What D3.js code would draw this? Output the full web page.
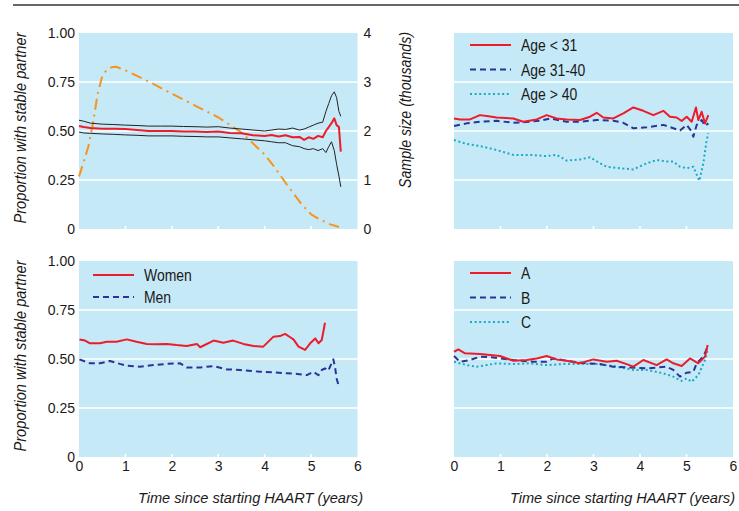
<!DOCTYPE html>
<html>
<head>
<meta charset="utf-8">
<script src="https://cdn.jsdelivr.net/npm/d3@7.9.0/dist/d3.min.js"></script>
<style>
  body { margin: 0; background: #fff; }
  svg { display: block; font-family: "Liberation Sans", Arial, sans-serif; }
  .tick text { font-size: 14px; fill: #1a1a1a; }
  .title { font-size: 16px; font-style: italic; fill: #1a1a1a; }
  .xtitle { font-size: 14.6px; font-style: italic; fill: #1a1a1a; }
  .leg { font-size: 17px; fill: #1a1a1a; }
</style>
</head>
<body>
<svg id="chart" width="739" height="511"></svg>
<script>
// ---- data (years since starting HAART, proportion / thousands) ----
const xTicks = [0, 1, 2, 3, 4, 5, 6];
const propTicks = [0, 0.25, 0.5, 0.75, 1];
const propLabels = ['0', '0.25', '0.50', '0.75', '1.00'];
const sampleTicks = [0, 1, 2, 3, 4];

// top left: overall estimate with confidence band, plus sample size
const allYears = [0, 0.1, 0.25, 0.5, 0.75, 1, 1.25, 1.5, 1.75, 2, 2.25, 2.5, 2.75, 3, 3.25, 3.5, 3.75, 4, 4.15, 4.3, 4.45, 4.6, 4.75, 4.85, 4.95, 5.05, 5.15, 5.25, 5.32, 5.38, 5.44, 5.5, 5.55, 5.6, 5.64];
const allEst = [0.525, 0.52, 0.515, 0.512, 0.512, 0.51, 0.505, 0.5, 0.5, 0.5, 0.498, 0.497, 0.495, 0.497, 0.49, 0.488, 0.478, 0.475, 0.48, 0.472, 0.478, 0.468, 0.47, 0.455, 0.468, 0.46, 0.475, 0.468, 0.5, 0.52, 0.54, 0.565, 0.53, 0.52, 0.395];
const allUpper = [0.555, 0.55, 0.54, 0.535, 0.533, 0.53, 0.528, 0.525, 0.525, 0.525, 0.523, 0.522, 0.52, 0.522, 0.515, 0.51, 0.505, 0.5, 0.505, 0.51, 0.508, 0.515, 0.505, 0.51, 0.52, 0.53, 0.54, 0.545, 0.6, 0.64, 0.68, 0.7, 0.67, 0.6, 0.575];
const allLower = [0.495, 0.49, 0.488, 0.485, 0.483, 0.48, 0.478, 0.475, 0.475, 0.475, 0.473, 0.472, 0.47, 0.47, 0.465, 0.46, 0.455, 0.45, 0.445, 0.44, 0.44, 0.425, 0.42, 0.41, 0.405, 0.41, 0.4, 0.41, 0.39, 0.42, 0.445, 0.4, 0.33, 0.27, 0.215];
const sampleYears = [0, 0.1, 0.2, 0.3, 0.4, 0.5, 0.6, 0.7, 0.8, 1.0, 1.5, 2.0, 2.5, 3.0, 3.5, 3.8, 4.0, 4.2, 4.4, 4.6, 4.8, 5.0, 5.2, 5.4, 5.6];
const sampleSize = [1.07, 1.37, 1.68, 2.15, 2.75, 3.12, 3.25, 3.3, 3.31, 3.24, 3.01, 2.76, 2.52, 2.28, 1.97, 1.7, 1.52, 1.28, 1.01, 0.75, 0.5, 0.3, 0.19, 0.1, 0.04];

// top right: by age group
const ageYoungYears = [0, 0.129, 0.344, 0.559, 0.703, 0.918, 1.276, 1.491, 1.778, 1.993, 2.208, 2.423, 2.71, 2.925, 3.068, 3.211, 3.427, 3.642, 3.857, 4.072, 4.287, 4.502, 4.645, 4.788, 4.896, 5.004, 5.111, 5.204, 5.254, 5.326, 5.398, 5.47];
const ageYoung = [0.564, 0.559, 0.559, 0.581, 0.576, 0.569, 0.564, 0.547, 0.559, 0.581, 0.564, 0.559, 0.556, 0.573, 0.593, 0.569, 0.564, 0.59, 0.62, 0.603, 0.581, 0.603, 0.573, 0.569, 0.551, 0.573, 0.547, 0.62, 0.556, 0.598, 0.539, 0.581];
const ageMidYears = [0, 0.272, 0.559, 0.918, 1.276, 1.491, 1.849, 2.065, 2.423, 2.71, 3.068, 3.427, 3.642, 3.857, 4.143, 4.502, 4.717, 4.86, 5.004, 5.111, 5.147, 5.219, 5.326, 5.398, 5.47];
const ageMid = [0.526, 0.539, 0.547, 0.552, 0.542, 0.545, 0.552, 0.564, 0.547, 0.547, 0.556, 0.552, 0.542, 0.514, 0.519, 0.531, 0.514, 0.502, 0.531, 0.497, 0.471, 0.531, 0.556, 0.526, 0.539];
const ageOldYears = [0, 0.272, 0.559, 0.918, 1.276, 1.634, 1.993, 2.208, 2.423, 2.71, 2.925, 3.14, 3.283, 3.57, 3.857, 4.143, 4.358, 4.573, 4.717, 4.86, 5.004, 5.147, 5.276, 5.362, 5.434, 5.47];
const ageOld = [0.454, 0.434, 0.423, 0.403, 0.378, 0.378, 0.372, 0.378, 0.349, 0.355, 0.366, 0.335, 0.318, 0.31, 0.304, 0.335, 0.352, 0.344, 0.344, 0.318, 0.31, 0.318, 0.246, 0.335, 0.454, 0.488];

// bottom left: by sex
const womenYears = [0.01, 0.13, 0.237, 0.453, 0.596, 0.81, 1.03, 1.24, 1.46, 1.67, 1.89, 2.1, 2.32, 2.54, 2.61, 2.9, 3.11, 3.32, 3.54, 3.76, 3.97, 4.19, 4.33, 4.44, 4.55, 4.62, 4.73, 4.87, 4.98, 5.09, 5.16, 5.23, 5.3];
const women = [0.6, 0.594, 0.58, 0.58, 0.588, 0.588, 0.6, 0.588, 0.577, 0.575, 0.577, 0.571, 0.566, 0.577, 0.56, 0.594, 0.583, 0.594, 0.577, 0.566, 0.563, 0.614, 0.617, 0.628, 0.611, 0.6, 0.563, 0.546, 0.58, 0.605, 0.58, 0.597, 0.685];
const menYears = [0.01, 0.237, 0.453, 0.668, 0.88, 1.03, 1.31, 1.6, 1.89, 2.18, 2.32, 2.61, 2.9, 3.18, 3.47, 3.9, 4.19, 4.48, 4.7, 4.91, 5.05, 5.16, 5.23, 5.3, 5.37, 5.48, 5.52, 5.55, 5.59];
const men = [0.498, 0.478, 0.478, 0.49, 0.475, 0.466, 0.461, 0.469, 0.475, 0.478, 0.457, 0.457, 0.464, 0.447, 0.444, 0.435, 0.432, 0.427, 0.424, 0.418, 0.435, 0.417, 0.444, 0.452, 0.44, 0.498, 0.452, 0.401, 0.367];

// bottom right: groups A, B, C
const aYears = [0, 0.093, 0.237, 0.559, 0.774, 0.99, 1.276, 1.563, 1.778, 1.993, 2.208, 2.423, 2.71, 2.997, 3.283, 3.498, 3.713, 3.857, 4.072, 4.358, 4.573, 4.717, 4.896, 5.075, 5.254, 5.398, 5.455];
const groupA = [0.537, 0.549, 0.529, 0.526, 0.52, 0.515, 0.491, 0.495, 0.503, 0.515, 0.498, 0.491, 0.478, 0.498, 0.486, 0.491, 0.474, 0.461, 0.495, 0.469, 0.498, 0.478, 0.464, 0.503, 0.478, 0.512, 0.571];
const bYears = [0, 0.129, 0.344, 0.559, 0.846, 1.276, 1.706, 1.993, 2.137, 2.423, 2.853, 3.14, 3.427, 3.713, 4.143, 4.573, 4.717, 4.86, 5.004, 5.147, 5.219, 5.362, 5.455];
const groupB = [0.515, 0.486, 0.495, 0.512, 0.508, 0.495, 0.486, 0.486, 0.503, 0.491, 0.478, 0.474, 0.461, 0.457, 0.452, 0.461, 0.444, 0.41, 0.43, 0.435, 0.478, 0.512, 0.563];
const cYears = [0, 0.272, 0.487, 0.703, 0.918, 1.276, 1.634, 1.993, 2.351, 2.71, 3.068, 3.427, 3.857, 4.143, 4.502, 4.717, 4.896, 5.004, 5.111, 5.254, 5.398, 5.455];
const groupC = [0.486, 0.469, 0.461, 0.469, 0.478, 0.474, 0.478, 0.469, 0.474, 0.474, 0.474, 0.464, 0.444, 0.444, 0.427, 0.41, 0.388, 0.401, 0.384, 0.418, 0.495, 0.546];

// ---- styles ----
const RED = '#ec1c2b', BLUE = '#2b3495', CYAN = '#1ca9c4', ORANGE = '#f7941d', BG = '#c6e9f8';
const styles = {
  solid: { stroke: RED, width: 2, dash: null },
  dashed: { stroke: BLUE, width: 2, dash: '6,4' },
  dotted: { stroke: CYAN, width: 2, dash: '2,2.6' },
  thin: { stroke: '#222', width: 1, dash: null },
  dashdot: { stroke: ORANGE, width: 2, dash: '11,5,2,5' }
};

const svg = d3.select('#chart');

svg.append('line')
  .attr('x1', 13).attr('x2', 739).attr('y1', 5).attr('y2', 5)
  .attr('stroke', '#333').attr('stroke-width', 1.5);

// squeeze text horizontally, the original face is a condensed one
function condense(sel, factor) {
  sel.each(function () {
    const w = this.getComputedTextLength();
    d3.select(this).attr('textLength', w * factor).attr('lengthAdjust', 'spacingAndGlyphs');
  });
}

function makePanel(x0, x1, y0, y1) {
  const x = d3.scaleLinear().domain([0, 6]).range([x0, x1]);
  const y = d3.scaleLinear().domain([0, 1]).range([y1, y0]);
  const g = svg.append('g');
  g.append('rect').attr('x', x0).attr('y', y0)
    .attr('width', x1 - x0).attr('height', y1 - y0).attr('fill', BG);
  g.selectAll('.grid').data([0.25, 0.5, 0.75]).join('line')
    .attr('x1', x0).attr('x2', x1)
    .attr('y1', (d) => y(d)).attr('y2', (d) => y(d))
    .attr('stroke', '#fff').attr('stroke-width', 1.6);
  g.selectAll('.xt').data([1, 2, 3, 4, 5]).join('line')
    .attr('x1', (d) => x(d)).attr('x2', (d) => x(d))
    .attr('y1', y1).attr('y2', y1 - 3)
    .attr('stroke', '#fff').attr('stroke-width', 1.6);
  return { g, x, y };
}

function drawLine(p, xs, ys, st, yScale) {
  const ys2 = yScale || p.y;
  const line = d3.line().x((d) => p.x(d[0])).y((d) => ys2(d[1]));
  p.g.append('path')
    .attr('d', line(d3.zip(xs, ys)))
    .attr('fill', 'none')
    .attr('stroke', st.stroke)
    .attr('stroke-width', st.width)
    .attr('stroke-dasharray', st.dash)
    .attr('stroke-linejoin', 'round');
}

function leftAxis(p) {
  const ax = d3.axisLeft(p.y).tickValues(propTicks)
    .tickFormat((d, i) => propLabels[i]).tickSize(0).tickPadding(4);
  const a = svg.append('g').attr('transform', `translate(${p.x.range()[0]},0)`).call(ax);
  a.select('.domain').remove();
}

function bottomAxis(p) {
  const ax = d3.axisBottom(p.x).tickValues(xTicks).tickFormat(d3.format('d')).tickSize(0).tickPadding(4);
  const a = svg.append('g').attr('transform', `translate(0,${p.y.range()[0]})`).call(ax);
  a.select('.domain').remove();
}

function yTitle(text, x, yc, len) {
  svg.append('text').attr('class', 'title')
    .attr('transform', `translate(${x},${yc}) rotate(-90)`)
    .attr('text-anchor', 'middle').attr('dy', '0.35em')
    .attr('textLength', len).attr('lengthAdjust', 'spacingAndGlyphs')
    .text(text);
}

function legend(p, items, lx, ly, step) {
  items.forEach((it, i) => {
    const yy = ly + i * step;
    p.g.append('line').attr('x1', lx).attr('x2', lx + 41).attr('y1', yy).attr('y2', yy)
      .attr('stroke', it.st.stroke).attr('stroke-width', it.st.width)
      .attr('stroke-dasharray', it.st.dash);
    p.g.append('text').attr('class', 'leg').attr('x', lx + 51).attr('y', yy)
      .attr('dy', '0.36em').text(it.label)
      .call(condense, 0.82);
  });
}

// top left
const tl = makePanel(79, 357.5, 33, 229);
const sampleY = d3.scaleLinear().domain([0, 4]).range([229, 33]);
drawLine(tl, sampleYears, sampleSize, styles.dashdot, sampleY);
drawLine(tl, allYears, allUpper, styles.thin);
drawLine(tl, allYears, allLower, styles.thin);
drawLine(tl, allYears, allEst, styles.solid);
leftAxis(tl);
const ra = svg.append('g').attr('transform', 'translate(357.5,0)')
  .call(d3.axisRight(sampleY).tickValues(sampleTicks).tickFormat(d3.format('d')).tickSize(0).tickPadding(6));
ra.select('.domain').remove();
yTitle('Proportion with stable partner', 20, 128, 191);
yTitle('Sample size (thousands)', 405, 110, 156);

// top right
const tr = makePanel(454, 733, 33, 229);
drawLine(tr, ageOldYears, ageOld, styles.dotted);
drawLine(tr, ageMidYears, ageMid, styles.dashed);
drawLine(tr, ageYoungYears, ageYoung, styles.solid);
legend(tr, [
  { label: 'Age < 31', st: styles.solid },
  { label: 'Age 31-40', st: styles.dashed },
  { label: 'Age > 40', st: styles.dotted }
], 470, 45, 24.5);

// bottom left
const bl = makePanel(79, 357.5, 261, 457);
drawLine(bl, menYears, men, styles.dashed);
drawLine(bl, womenYears, women, styles.solid);
leftAxis(bl);
bottomAxis(bl);
yTitle('Proportion with stable partner', 20, 356, 191);
legend(bl, [
  { label: 'Women', st: styles.solid },
  { label: 'Men', st: styles.dashed }
], 93, 275, 22);

// bottom right
const br = makePanel(454, 733, 261, 457);
drawLine(br, cYears, groupC, styles.dotted);
drawLine(br, bYears, groupB, styles.dashed);
drawLine(br, aYears, groupA, styles.solid);
bottomAxis(br);
legend(br, [
  { label: 'A', st: styles.solid },
  { label: 'B', st: styles.dashed },
  { label: 'C', st: styles.dotted }
], 470, 273, 24.5);

// x titles
svg.append('text').attr('class', 'xtitle').attr('x', 363).attr('y', 498)
  .attr('text-anchor', 'end').attr('dy', '0.35em')
  .text('Time since starting HAART (years)');
svg.append('text').attr('class', 'xtitle').attr('x', 735).attr('y', 498)
  .attr('text-anchor', 'end').attr('dy', '0.35em')
  .text('Time since starting HAART (years)');
</script>
</body>
</html>
